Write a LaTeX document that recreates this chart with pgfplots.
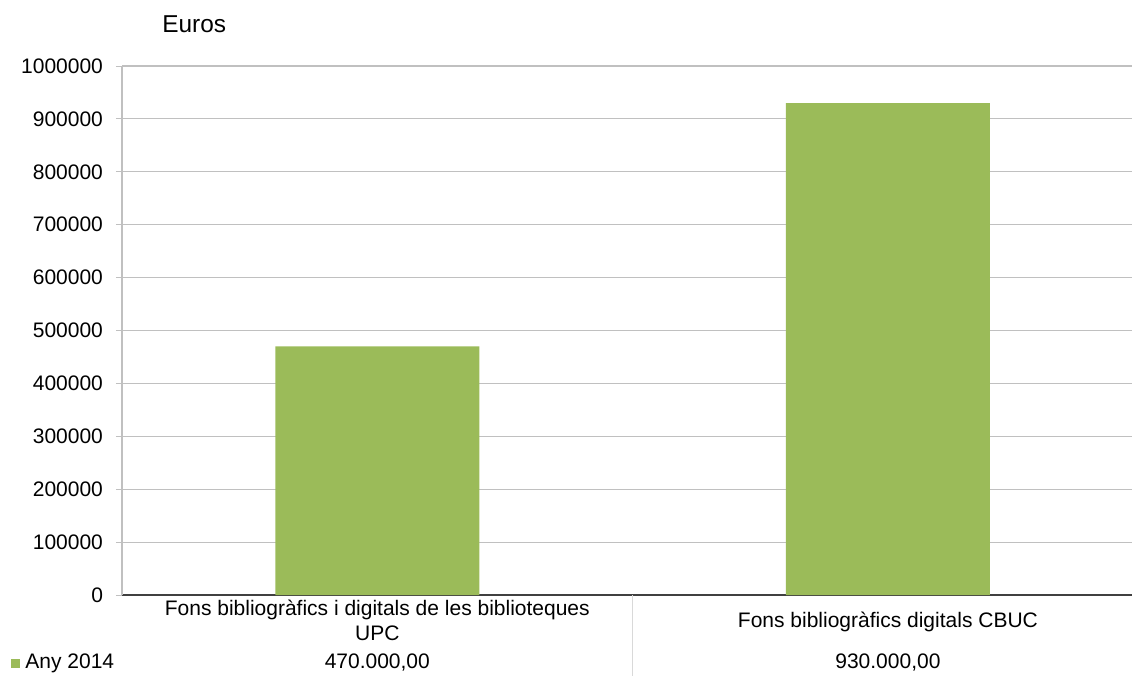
\documentclass[border=0pt]{standalone}
\usepackage{fontspec}
\setmainfont{Liberation Sans}
\usepackage{pgfplots}
\pgfplotsset{compat=1.18}
\definecolor{bargreen}{HTML}{9BBB59}
\definecolor{gridgray}{HTML}{C0C0C0}
\definecolor{sepgray}{HTML}{D9D9D9}
\definecolor{axisdark}{HTML}{404040}

\begin{document}
\begin{tikzpicture}[font=\fontsize{10.5}{12.6}\selectfont]
\begin{axis}[
  at={(0,0)}, anchor=south west,
  scale only axis, width=505pt, height=264.5pt,
  xmin=-0.5, xmax=1.478,
  ymin=0, ymax=1000000,
  ytick={0,100000,...,1000000},
  xtick=\empty,
  axis x line*=bottom, axis y line*=left,
  x axis line style={axisdark, line width=0.8pt},
  y axis line style={gridgray, line width=1pt},
  ymajorgrids, grid style={gridgray, line width=0.5pt},
  tick align=outside, major tick length=3pt,
  ytick style={gridgray, line width=0.5pt},
  scaled y ticks=false,
  /pgf/number format/assume math mode=true,
  yticklabel style={/pgf/number format/fixed, /pgf/number format/1000 sep={}, xshift=-3pt},
  ybar, bar width=102pt,
  clip=false,
]
\addplot[fill=bargreen, draw=none] coordinates {(0,470000) (1,930000)};
\draw[gridgray, line width=1pt] (rel axis cs:0,1) -- (rel axis cs:1,1);

% data table under the axis
\draw[sepgray, line width=0.6pt] (axis cs:0.5,0) -- ([yshift=-40.5pt]axis cs:0.5,0);
\node[anchor=base, inner sep=0] at ([yshift=-10pt]axis cs:0,0) {Fons bibliogràfics i digitals de les biblioteques};
\node[anchor=base, inner sep=0] at ([yshift=-22.5pt]axis cs:0,0) {UPC};
\node[anchor=base, inner sep=0] at ([yshift=-16pt]axis cs:1,0) {Fons bibliogràfics digitals CBUC};
\node[anchor=base, inner sep=0] at ([yshift=-36.5pt]axis cs:0,0) {470.000,00};
\node[anchor=base, inner sep=0] at ([yshift=-36.5pt]axis cs:1,0) {930.000,00};
\fill[bargreen] ([xshift=-55.5pt,yshift=-36.5pt]rel axis cs:0,0) rectangle ++(4.5pt,4.5pt);
\node[anchor=base west, inner sep=0] at ([xshift=-48.5pt,yshift=-36.5pt]rel axis cs:0,0) {Any 2014};
\node[anchor=base west, inner sep=0, font=\fontsize{12.2}{14}\selectfont] at ([xshift=20pt,yshift=17pt]rel axis cs:0,1) {Euros};
\end{axis}
\pgfresetboundingbox
\path[use as bounding box] (-61pt,-40.5pt) rectangle (505pt,297.5pt);
\end{tikzpicture}
\end{document}
